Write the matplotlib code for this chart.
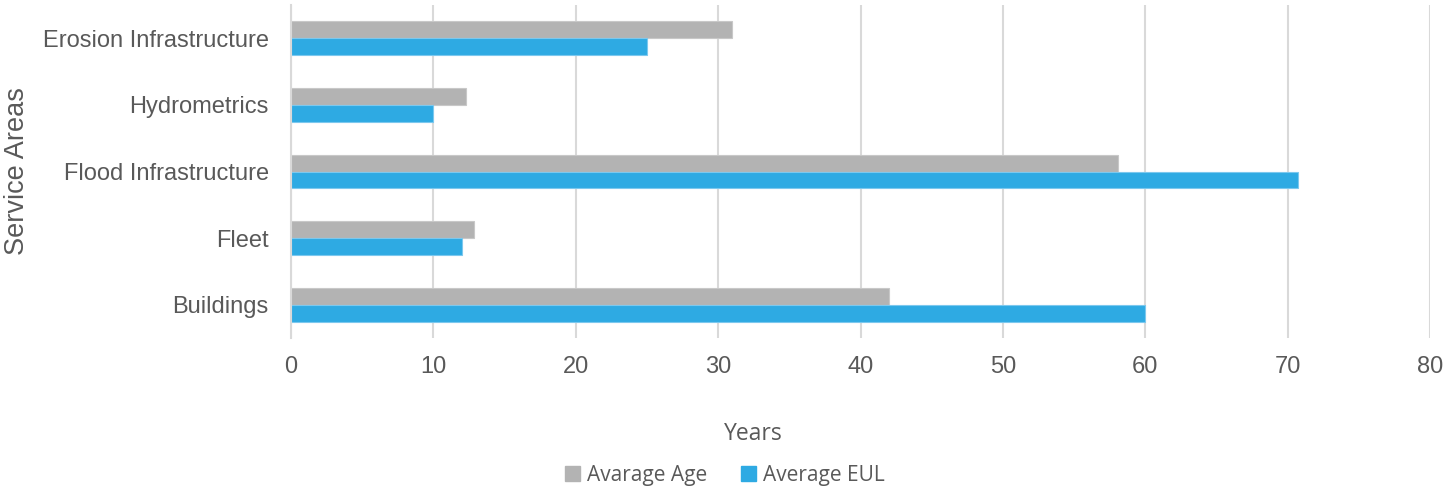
import numpy as np
import matplotlib.pyplot as plt
from matplotlib.patches import Patch

categories = ["Erosion Infrastructure", "Hydrometrics", "Flood Infrastructure", "Fleet", "Buildings"]
avg_age = [31.0, 12.3, 58.1, 12.85, 42.0]
avg_eul = [25.0, 10.0, 70.7, 12.0, 60.0]
xticks = [0, 10, 20, 30, 40, 50, 60, 70, 80]

grey = "#b3b3b3"
blue = "#2eaae3"
txt = "#595959"
grid = "#d9d9d9"

fig = plt.figure(figsize=(14.45, 4.91), dpi=100)
ax = fig.add_axes([291 / 1445, 1 - 338 / 491, (1430 - 291) / 1445, 333 / 491])

y = np.arange(len(categories))
h = 0.255
ax.barh(y - h / 2, avg_age, height=h, color=grey, edgecolor="#c8c8c8", linewidth=0.8, zorder=3)
ax.barh(y + h / 2, avg_eul, height=h, color=blue, edgecolor="#7cc8ee", linewidth=0.8, zorder=3)

ax.set_xlim(0, 80)
ax.set_ylim(len(categories) - 0.5, -0.5)
ax.set_xticks(xticks)
ax.set_yticks(y)
ax.set_yticklabels(categories, family="Liberation Sans", fontsize=17, color=txt)
for lab in ax.get_xticklabels():
    lab.set_family("Liberation Sans")
    lab.set_fontsize(17)
    lab.set_color(txt)
ax.tick_params(axis="both", length=0)
ax.tick_params(axis="x", pad=13)
ax.tick_params(axis="y", pad=16)

ax.grid(axis="x", color=grid, linewidth=1.5, zorder=0)
for s in ["top", "right", "bottom"]:
    ax.spines[s].set_visible(False)
ax.spines["left"].set_color(grid)
ax.spines["left"].set_linewidth(1.5)
ax.spines["left"].set_zorder(4)

fig.text(17 / 1445, 1 - 171.5 / 491, "Service Areas", rotation=90, ha="center", va="center",
         family="Liberation Sans", fontsize=19.5, color=txt)
fig.text(753 / 1445, 1 - 434 / 491, "Years", ha="center", va="center",
         family="Open Sans", fontsize=16.5, color=txt)

handles = [Patch(color=grey, label="Avarage Age"), Patch(color=blue, label="Average EUL")]
fig.legend(handles=handles, loc="center", bbox_to_anchor=(725 / 1445, 1 - 475 / 491), ncol=2,
           frameon=False, prop={"family": "Open Sans", "size": 15}, labelcolor=txt,
           handlelength=0.7, handleheight=0.7, handletextpad=0.35, columnspacing=1.6)

fig.savefig("out.png", dpi=100)
